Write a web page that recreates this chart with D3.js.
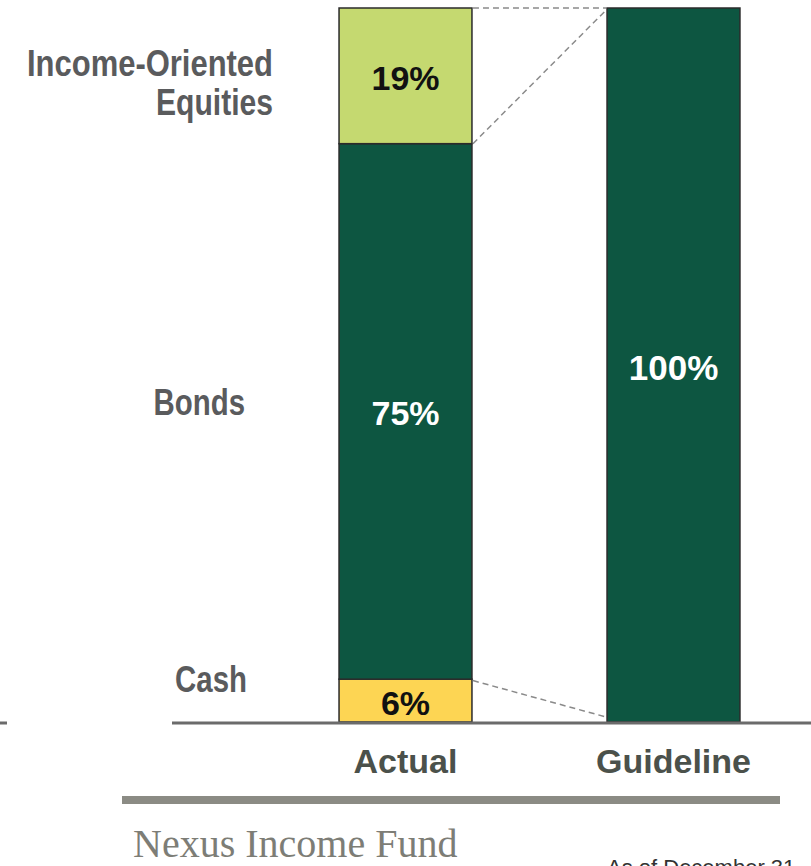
<!DOCTYPE html>
<html>
<head>
<meta charset="utf-8">
<script src="https://cdn.jsdelivr.net/npm/d3@7"></script>
<style>
  body { margin: 0; background: #fff; }
  svg { display: block; }
</style>
</head>
<body>
<script>
// chart data
var categories = ["Actual", "Guideline"];
var segments = ["Cash", "Bonds", "Income-Oriented Equities"];
var actualValues = [6, 75, 19];
var guidelineValue = 100;
var segmentColors = ["#fdd553", "#0d5641", "#c5d970"];
var labelColors = ["#111", "#fff", "#111"];
var footerTitle = "Nexus Income Fund";
var footerDate = "As of December 31";

var svg = d3.select("body").append("svg")
    .attr("width", 811)
    .attr("height", 866);

var x = d3.scaleBand()
    .domain(categories)
    .range([271.5, 807.5])
    .paddingInner(0.504)
    .paddingOuter(0.252);

var y = d3.scaleLinear()
    .domain([0, 100])
    .range([722, 8]);

// stack the actual bar
var row = {};
segments.forEach(function(s, i) { row[s] = actualValues[i]; });
var stacked = d3.stack().keys(segments)([row]);

var bars = svg.append("g");

bars.selectAll("rect.actual")
    .data(stacked)
    .enter().append("rect")
    .attr("class", "actual")
    .attr("x", x("Actual"))
    .attr("width", x.bandwidth())
    .attr("y", function(d) { return y(d[0][1]); })
    .attr("height", function(d) { return y(d[0][0]) - y(d[0][1]); })
    .attr("fill", function(d, i) { return segmentColors[i]; })
    .attr("stroke", "#2b2b2b")
    .attr("stroke-width", 1.5);

bars.append("rect")
    .attr("x", x("Guideline"))
    .attr("width", x.bandwidth())
    .attr("y", y(guidelineValue))
    .attr("height", y(0) - y(guidelineValue))
    .attr("fill", segmentColors[1])
    .attr("stroke", "#2b2b2b")
    .attr("stroke-width", 1.5);

// dashed connectors
var ax = x("Actual") + x.bandwidth();
var gx = x("Guideline");
var connectors = [
    [100, 100],
    [100 - actualValues[2], 99.7],
    [actualValues[0] - 0.2, 0.7]
];
svg.append("g").selectAll("line")
    .data(connectors)
    .enter().append("line")
    .attr("x1", ax + 1)
    .attr("x2", gx - 1)
    .attr("y1", function(d) { return y(d[0]); })
    .attr("y2", function(d) { return y(d[1]); })
    .attr("stroke", "#8a8a8a")
    .attr("stroke-width", 1.5)
    .attr("stroke-dasharray", "6,4");

// value labels
var valFont = "'Liberation Sans', Arial, sans-serif";
svg.append("g").selectAll("text")
    .data(stacked)
    .enter().append("text")
    .attr("x", x("Actual") + x.bandwidth() / 2)
    .attr("y", function(d) { return y((d[0][0] + d[0][1]) / 2) + 2; })
    .attr("text-anchor", "middle")
    .attr("dominant-baseline", "central")
    .attr("font-family", valFont)
    .attr("font-weight", "bold")
    .attr("font-size", 34)
    .attr("fill", function(d, i) { return labelColors[i]; })
    .text(function(d, i) { return actualValues[i] + "%"; });

svg.append("text")
    .attr("x", x("Guideline") + x.bandwidth() / 2)
    .attr("y", y(guidelineValue / 2) + 2)
    .attr("text-anchor", "middle")
    .attr("dominant-baseline", "central")
    .attr("font-family", valFont)
    .attr("font-weight", "bold")
    .attr("font-size", 35)
    .attr("fill", "#fff")
    .text(guidelineValue + "%");

// segment names on the left (narrow look: squeezed horizontally)
var nameSpots = [
    {lines: ["Cash"], x: 247, dy: -21, sx: [0.84]},
    {lines: ["Bonds"], x: 245, dy: -9, sx: [0.84]},
    {lines: ["Income-Oriented", "Equities"], x: 273, dy: -13, sx: [0.885, 0.86]}
];
stacked.forEach(function(d, i) {
    var spot = nameSpots[i];
    var cy = y((d[0][0] + d[0][1]) / 2) + spot.dy;
    spot.lines.forEach(function(line, k) {
        svg.append("text")
            .attr("transform", "translate(" + spot.x + "," + (cy + k * 40) + ") scale(" + spot.sx[k] + ",1.04)")
            .attr("text-anchor", "end")
            .attr("dominant-baseline", "central")
            .attr("font-family", valFont)
            .attr("font-weight", "bold")
            .attr("font-size", 35)
            .attr("fill", "#5a5b5d")
            .text(line);
    });
});

// baseline
svg.append("line")
    .attr("x1", 172).attr("x2", 811)
    .attr("y1", y(0) + 1).attr("y2", y(0) + 1)
    .attr("stroke", "#6b6b6b")
    .attr("stroke-width", 3);
svg.append("line")
    .attr("x1", 0).attr("x2", 7)
    .attr("y1", y(0) + 1).attr("y2", y(0) + 1)
    .attr("stroke", "#6b6b6b")
    .attr("stroke-width", 3);

// category axis
var xAxis = svg.append("g")
    .attr("transform", "translate(0," + (y(0) + 1) + ")")
    .call(d3.axisBottom(x).tickSize(0).tickPadding(26));
xAxis.select(".domain").remove();
xAxis.selectAll("text")
    .attr("font-family", valFont)
    .attr("font-weight", "bold")
    .attr("font-size", 34)
    .attr("fill", "#4b514b");

// footer
svg.append("rect")
    .attr("x", 122).attr("y", 796)
    .attr("width", 658).attr("height", 8)
    .attr("fill", "#8b8b84");

svg.append("text")
    .attr("x", 133).attr("y", 857)
    .attr("font-family", "'Liberation Serif', 'DejaVu Serif', serif")
    .attr("font-size", 40)
    .attr("fill", "#7d7d76")
    .text(footerTitle);

svg.append("text")
    .attr("x", 607).attr("y", 875)
    .attr("font-family", valFont)
    .attr("font-size", 22)
    .attr("fill", "#333")
    .text(footerDate);
</script>
</body>
</html>
